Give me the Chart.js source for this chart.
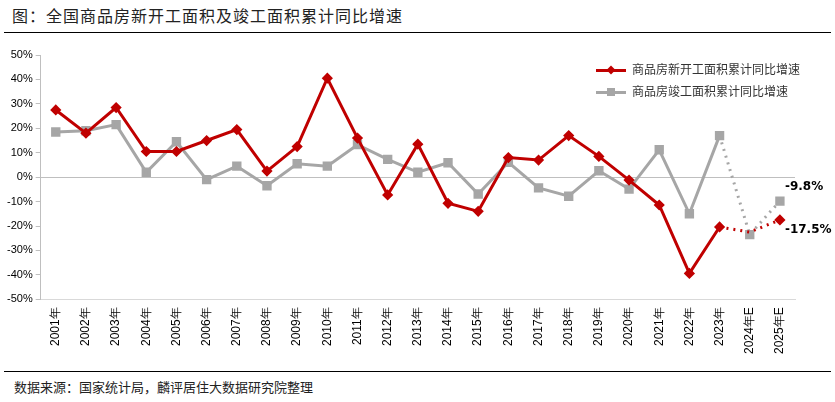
<!DOCTYPE html>
<html><head><meta charset="utf-8">
<script src="https://cdn.jsdelivr.net/npm/chart.js@4/dist/chart.umd.min.js"></script>
<style>
body{margin:0;width:835px;height:402px;background:#fff;font-family:"Noto Sans CJK SC",sans-serif;position:relative;overflow:hidden}
#title{position:absolute;left:12px;top:3px;font-size:16px;color:#222;letter-spacing:1px}
#hr1{position:absolute;left:4px;right:4px;top:32px;border-top:1.5px solid #000}
#hr2{position:absolute;left:4px;right:4px;top:371px;border-top:1.5px solid #000}
#foot{position:absolute;left:14px;top:377px;font-size:13px;color:#222}
#wrap{position:absolute;left:0;top:38px;width:835px;height:330px}
#leg{position:absolute;left:596px;top:58px;font-size:12px;color:#333;line-height:22px}
.sw{display:inline-block;width:30px;height:3px;vertical-align:middle;margin-right:6px;position:relative}
.sw i{position:absolute;left:11px;top:-3px;width:8px;height:8px}
</style></head><body>
<div id="title">图：全国商品房新开工面积及竣工面积累计同比增速</div>
<div id="hr1"></div>
<div id="wrap"><canvas id="c"></canvas></div>
<div id="leg">
<div><span class="sw" style="background:#c00000"><i style="background:#c00000;transform:rotate(45deg) scale(.8)"></i></span>商品房新开工面积累计同比增速</div>
<div><span class="sw" style="background:#a6a6a6"><i style="background:#a6a6a6"></i></span>商品房竣工面积累计同比增速</div>
</div>
<div id="hr2"></div>
<div id="foot">数据来源：国家统计局，麟评居住大数据研究院整理</div>
<script>
const categories=["2001年","2002年","2003年","2004年","2005年","2006年","2007年","2008年","2009年","2010年","2011年","2012年","2013年","2014年","2015年","2016年","2017年","2018年","2019年","2020年","2021年","2022年","2023年","2024年E","2025年E"];
const newStarts=[27.5,18,28.5,10.5,10.5,15,19.5,2.5,12.5,40.5,16,-7.3,13.5,-10.7,-14,8,7,17,8.5,-1.2,-11.4,-39.4,-20.4,-22.5,-17.5];
const completions=[18.5,19,21.5,2,14.5,-1,4.5,-3.5,5.5,4.5,13.3,7.3,2,5.9,-6.9,6.1,-4.4,-7.8,2.6,-4.9,11.2,-15,17,-23.5,-9.8];
const yTicks=[50,40,30,20,10,0,-10,-20,-30,-40,-50];
const forecastStart=22;
const dash=ctx=>ctx.p0DataIndex>=forecastStart?[2,5]:undefined;
const labelPlugin={id:'lbl',afterDatasetsDraw(ch){
  const c=ch.ctx;c.save();c.font='bold 12px "DejaVu Sans"';c.fillStyle='#000';c.textBaseline='middle';
  const last=categories.length-1;
  const p1=ch.getDatasetMeta(1).data[last],p0=ch.getDatasetMeta(0).data[last];
  c.fillText(completions[last].toFixed(1)+'%',p1.x+5,p1.y-14);
  c.fillText(newStarts[last].toFixed(1)+'%',p0.x+5,p0.y+10);
  c.restore();}};
new Chart(document.getElementById('c'),{type:'line',
data:{labels:categories,datasets:[
 {label:'商品房新开工面积累计同比增速',data:newStarts,borderColor:'#c00000',backgroundColor:'#c00000',borderWidth:3,pointStyle:'rectRot',
  pointRadius:categories.map((_,i)=>i===23?0:3.5),pointHoverRadius:3.5,segment:{borderDash:dash},tension:0},
 {label:'商品房竣工面积累计同比增速',data:completions,borderColor:'#a6a6a6',backgroundColor:'#a6a6a6',borderWidth:3,pointStyle:'rect',
  pointRadius:4.5,pointHoverRadius:4.5,segment:{borderDash:dash},tension:0}
]},
options:{animation:false,responsive:true,maintainAspectRatio:false,
 layout:{padding:{left:4,right:40,top:17,bottom:6}},
 plugins:{legend:{display:false},tooltip:{enabled:false}},
 scales:{
  x:{offset:true,grid:{display:false,drawTicks:false},border:{color:'#d9d9d9'},
     ticks:{minRotation:90,maxRotation:90,autoSkip:false,color:'#000',font:{size:12,family:'Liberation Sans'},padding:8}},
  y:{min:-50,max:50,afterBuildTicks:ax=>{ax.ticks=yTicks.map(v=>({value:v}));},
     grid:{color:ctx=>ctx.tick&&ctx.tick.value===0?'#bfbfbf':'rgba(0,0,0,0)',drawTicks:true,tickLength:5,tickColor:'#bfbfbf'},
     border:{color:'#bfbfbf'},
     ticks:{color:'#000',font:{size:11,family:'Liberation Sans'},callback:v=>v+'%',padding:3}}
 }},
plugins:[labelPlugin]});
</script></body></html>
